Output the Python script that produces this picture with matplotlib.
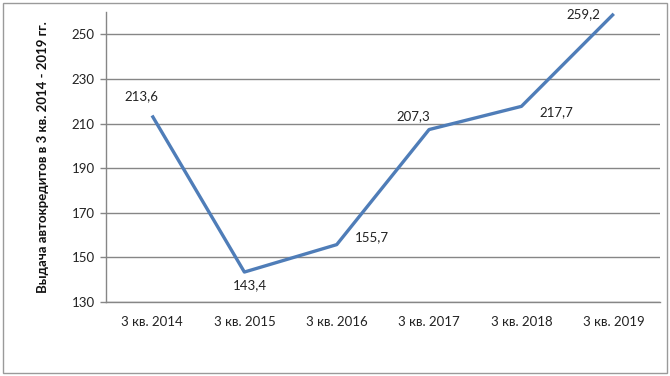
import matplotlib.pyplot as plt
from matplotlib.patches import Rectangle

quarters = ["3 кв. 2014", "3 кв. 2015", "3 кв. 2016", "3 кв. 2017", "3 кв. 2018", "3 кв. 2019"]
values = [213.6, 143.4, 155.7, 207.3, 217.7, 259.2]
labels = ["213,6", "143,4", "155,7", "207,3", "217,7", "259,2"]
# label offsets in pixels from each point
offsets = [(-11, 19), (6, -13), (35, 7), (-16, 13), (35, -6), (-30, 0)]

plt.rcParams["font.family"] = ["Lato", "DejaVu Sans"]

fig = plt.figure(figsize=(6.7, 3.76), dpi=100)
fig.patch.set_facecolor("white")
ax = fig.add_axes([0.158, 0.197, 0.827, 0.771])

x = list(range(len(quarters)))
ax.plot(x, values, color="#4F7DB8", linewidth=2.4, solid_capstyle="butt", zorder=3)

for xi, v, lab, (dx, dy) in zip(x, values, labels, offsets):
    ax.annotate(lab, (xi, v), xytext=(dx, dy), textcoords="offset pixels",
                ha="center", va="center", fontsize=9.5, color="#222222")

ax.set_xlim(-0.5, len(quarters) - 0.5)
ax.set_ylim(130, 260)
ax.set_yticks(range(130, 251, 20))
ax.set_xticks(x)
ax.set_xticklabels(quarters)
ax.tick_params(axis="x", length=0, pad=10, labelsize=9.5, colors="#222222")
ax.tick_params(axis="y", length=4, width=1, color="#868686", pad=4, labelsize=9.5, labelcolor="#222222")

ax.grid(axis="y", color="#868686", linewidth=1)
ax.set_axisbelow(True)
for side in ["top", "right"]:
    ax.spines[side].set_visible(False)
for side in ["left", "bottom"]:
    ax.spines[side].set_color("#868686")
    ax.spines[side].set_linewidth(1)

ax.set_ylabel("Выдача автокредитов в 3 кв. 2014 - 2019 гг.", fontsize=9.5,
              fontweight="bold", labelpad=16, color="#111111")

fig.patches.append(Rectangle((0.004, 0.008), 0.992, 0.985, transform=fig.transFigure,
                             fill=False, edgecolor="#9a9a9a", linewidth=1))

fig.savefig("out.png", dpi=100, facecolor="white")
